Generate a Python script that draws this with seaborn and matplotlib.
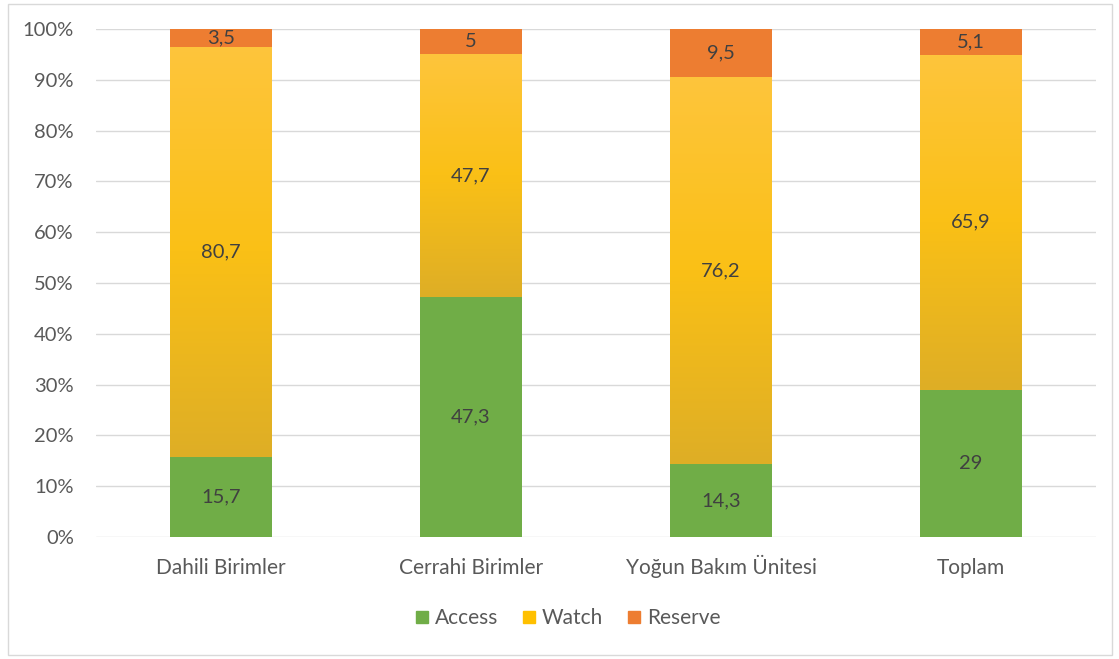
import numpy as np
import pandas as pd
import seaborn as sns
import matplotlib.pyplot as plt
from matplotlib.colors import LinearSegmentedColormap
from matplotlib.patches import Rectangle
from matplotlib.lines import Line2D

categories = ["Dahili Birimler", "Cerrahi Birimler", "Yoğun Bakım Ünitesi", "Toplam"]
access = [15.7, 47.3, 14.3, 29]
watch = [80.7, 47.7, 76.2, 65.9]
reserve = [3.5, 5, 9.5, 5.1]
series_names = ["Access", "Watch", "Reserve"]
y_ticks = [0, 10, 20, 30, 40, 50, 60, 70, 80, 90, 100]

colors = {"Access": "#70AD47", "Watch": "#FFC000", "Reserve": "#ED7D31"}

sns.set_theme(style="white")
plt.rcParams["font.family"] = ["Lato", "DejaVu Sans"]

raw = np.array([access, watch, reserve], dtype=float)
pct = raw / raw.sum(axis=0) * 100

fig = plt.figure(figsize=(11.19, 6.59), dpi=100)
ax = fig.add_axes([96 / 1119, 1 - 537 / 659, 1000 / 1119, 508 / 659])

bottoms = np.zeros(len(categories))
bar_groups = []
for i, name in enumerate(series_names):
    df = pd.DataFrame({"cat": categories, "val": pct[i]})
    n_before = len(ax.patches)
    sns.barplot(data=df, x="cat", y="val", order=categories, color=colors[name],
                saturation=1, width=0.405, bottom=bottoms.copy(), ax=ax,
                linewidth=0, errorbar=None)
    bar_groups.append((name, ax.patches[n_before:], bottoms.copy(), pct[i]))
    bottoms = bottoms + pct[i]

# gradient on Watch segments
cmap = LinearSegmentedColormap.from_list("w", ["#DEAE26", "#FAC016", "#FEC53C"])
grad = np.linspace(0, 1, 256).reshape(-1, 1)
for name, patches, bots, vals in bar_groups:
    if name != "Watch":
        continue
    for p in patches:
        x0 = p.get_x(); w = p.get_width(); y0 = p.get_y(); h = p.get_height()
        im = ax.imshow(grad, cmap=cmap, origin="lower", aspect="auto",
                       extent=(x0, x0 + w, y0, y0 + h), zorder=p.get_zorder() + 0.1)
        im.set_clip_path(p)

# value labels
for name, patches, bots, vals in bar_groups:
    for p, raw_v in zip(patches, raw[series_names.index(name)]):
        txt = f"{raw_v:g}".replace(".", ",")
        ax.text(p.get_x() + p.get_width() / 2, p.get_y() + p.get_height() / 2, txt,
                ha="center", va="center", fontsize=14.5, color="#404040", zorder=5)

ax.set_xlim(-0.5, 3.5)
ax.set_ylim(0, 100)
ax.set_yticks(y_ticks)
ax.set_yticklabels([f"{t}%" for t in y_ticks], fontsize=14.5, color="#595959")
ax.tick_params(axis="x", labelsize=15, labelcolor="#595959", length=0, pad=27)
ax.tick_params(axis="y", length=0, pad=16)
for lab in ax.get_xticklabels():
    lab.set_va("baseline")
ax.set_xlabel("")
ax.set_ylabel("")
ax.yaxis.grid(True, color="#D9D9D9", linewidth=1)
ax.set_axisbelow(True)
for s in ax.spines.values():
    s.set_visible(False)

handles = [Line2D([0], [0], marker="s", linestyle="none", markersize=8,
                  markerfacecolor=colors[n], markeredgecolor=colors[n]) for n in series_names]
leg = fig.legend(handles, series_names, loc="center", bbox_to_anchor=(566 / 1119, 1 - 618 / 659),
                 ncol=3, frameon=False, fontsize=15, handletextpad=0.1, columnspacing=1.0,
                 handlelength=1.0)
for t in leg.get_texts():
    t.set_color("#595959")

fig.patches.append(Rectangle((8 / 1119, 4 / 659), 1104 / 1119, 651 / 659,
                             transform=fig.transFigure, fill=False, edgecolor="#D9D9D9",
                             linewidth=1))

fig.savefig("out.png", dpi=100, facecolor="white")
